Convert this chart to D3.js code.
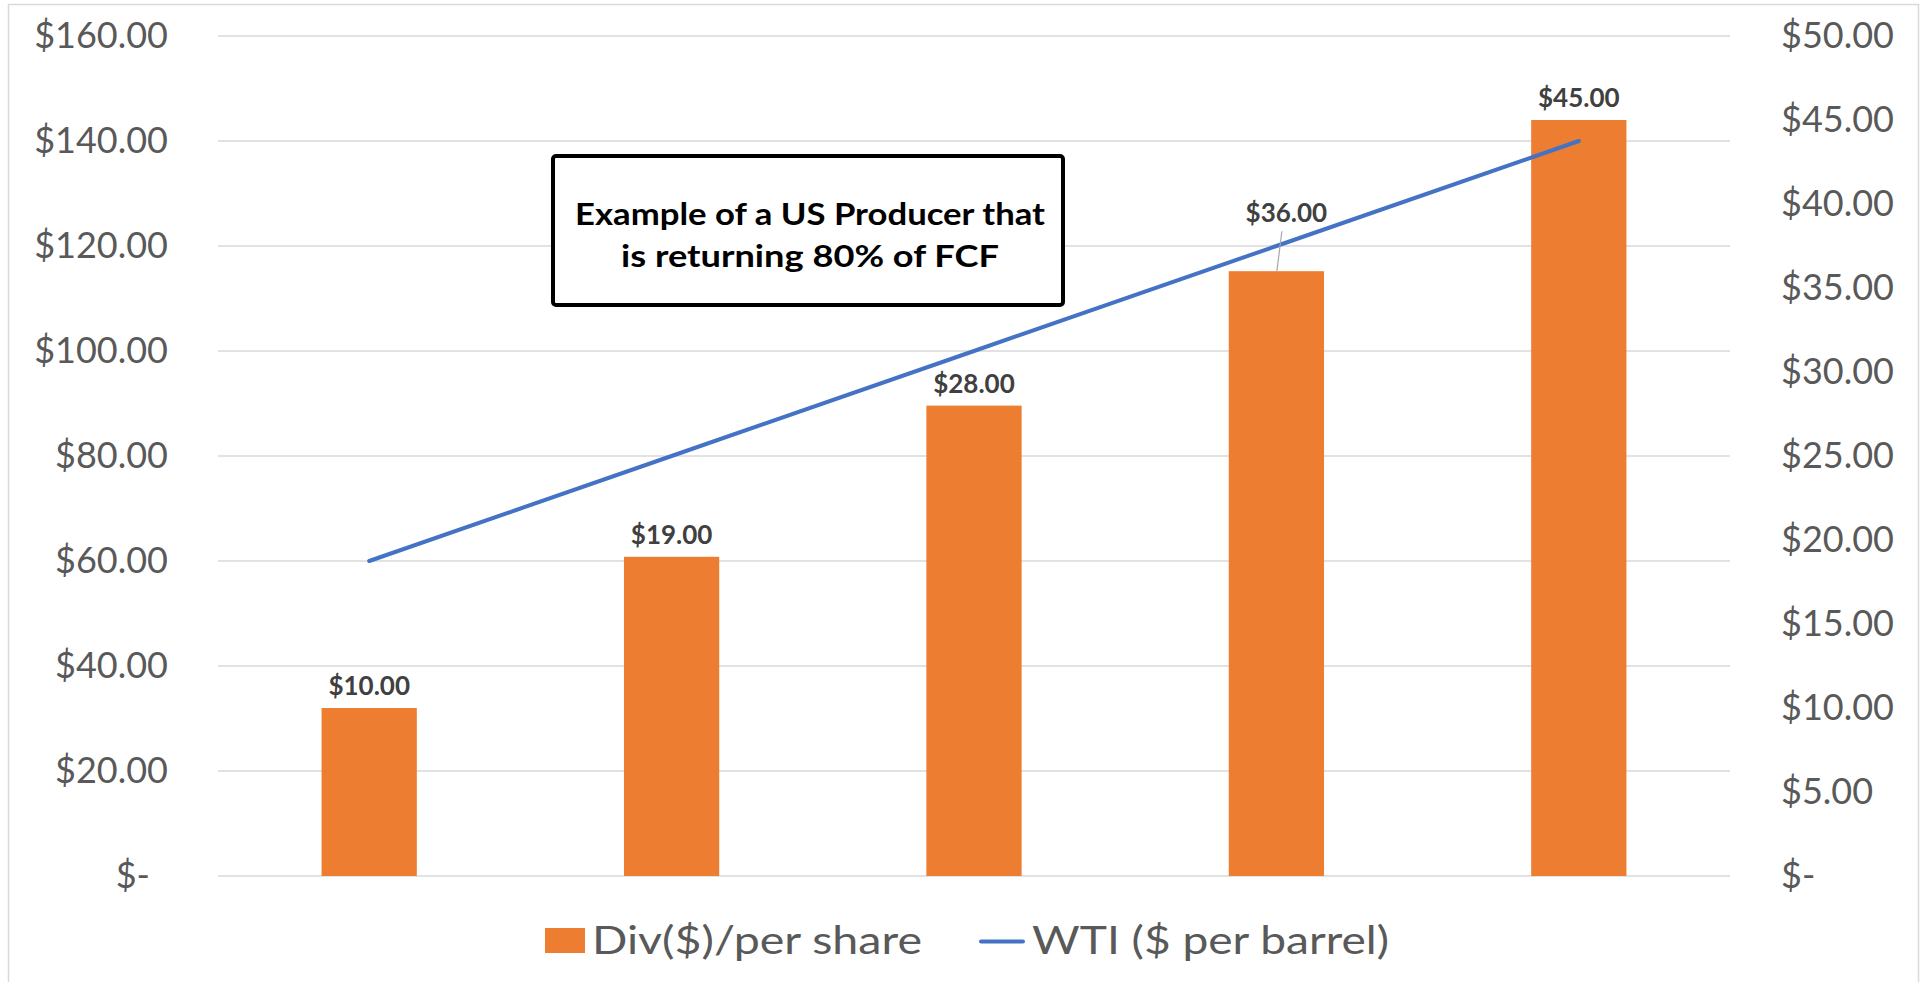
<!DOCTYPE html>
<html>
<head>
<meta charset="utf-8">
<script src="https://cdn.jsdelivr.net/npm/d3@7/dist/d3.min.js"></script>
<style>
  body { margin: 0; background: #fff; }
  svg { display: block; font-family: Lato, "Open Sans", sans-serif; }
</style>
</head>
<body>
<svg></svg>
<script>
var periods = ["Y1", "Y2", "Y3", "Y4", "Y5"];
var divPerShare = [10, 19, 28, 36, 45];      // bars, right axis
var wtiPrice = [60, 80, 100, 120, 140];      // line, left axis
var leftTicks = [0, 20, 40, 60, 80, 100, 120, 140, 160];
var rightTicks = [0, 5, 10, 15, 20, 25, 30, 35, 40, 45, 50];
var seriesNames = ["Div($)/per share", "WTI ($ per barrel)"];
var noteLines = ["Example of a US Producer that", "is returning 80% of FCF"];

var width = 1925, height = 982;
var plot = { left: 218, right: 1730, top: 36, bottom: 876 };

var svg = d3.select("svg")
    .attr("width", width)
    .attr("height", height);

// chart frame
svg.append("rect")
    .attr("x", 8.5).attr("y", 4.5)
    .attr("width", 1910).attr("height", 1000)
    .style("fill", "none")
    .style("stroke", "#d9d9d9")
    .style("stroke-width", 1.5);

var x = d3.scaleBand()
    .domain(periods)
    .range([plot.left, plot.right]);

var yLeft = d3.scaleLinear().domain([0, 160]).range([plot.bottom, plot.top]);
var yRight = d3.scaleLinear().domain([0, 50]).range([plot.bottom, plot.top]);

var fmt = function(d) {
    return d === 0 ? "$-" : "$" + d3.format(".2f")(d);
};

// gridlines
svg.append("g")
    .selectAll("line")
    .data(leftTicks)
    .enter().append("line")
    .attr("x1", plot.left).attr("x2", plot.right)
    .attr("y1", function(d) { return yLeft(d); })
    .attr("y2", function(d) { return yLeft(d); })
    .style("stroke", "#d9d9d9")
    .style("stroke-width", 1.5);

// left axis labels
var leftAxis = svg.append("g")
    .attr("transform", "translate(168,0)")
    .call(d3.axisLeft(yLeft).tickValues(leftTicks).tickFormat(fmt).tickSize(0).tickPadding(0));
leftAxis.select(".domain").remove();
leftAxis.selectAll("text")
    .style("font-family", "Lato, sans-serif")
    .style("font-size", "36px")
    .style("fill", "#595959")
    .attr("dx", function(d) { return d === 0 ? -18 : 0; });

// right axis labels
var rightAxis = svg.append("g")
    .attr("transform", "translate(1781,0)")
    .call(d3.axisRight(yRight).tickValues(rightTicks).tickFormat(fmt).tickSize(0).tickPadding(0));
rightAxis.select(".domain").remove();
rightAxis.selectAll("text")
    .style("font-family", "Lato, sans-serif")
    .style("font-size", "36px")
    .style("fill", "#595959");

// bars
var barW = x.bandwidth() * 0.315;
svg.append("g")
    .selectAll("rect")
    .data(divPerShare)
    .enter().append("rect")
    .attr("x", function(d, i) { return x(periods[i]) + x.bandwidth() / 2 - barW / 2; })
    .attr("y", function(d) { return yRight(d); })
    .attr("width", barW)
    .attr("height", function(d) { return plot.bottom - yRight(d); })
    .style("fill", "#ed7d31");

// WTI line
var line = d3.line()
    .x(function(d, i) { return x(periods[i]) + x.bandwidth() / 2; })
    .y(function(d) { return yLeft(d); });

svg.append("path")
    .datum(wtiPrice)
    .attr("d", line)
    .style("fill", "none")
    .style("stroke", "#4472c4")
    .style("stroke-width", 4)
    .style("stroke-linecap", "round");

// data labels (the 4th one is pushed up with a leader line, as in Excel)
divPerShare.forEach(function(d, i) {
    var cx = x(periods[i]) + x.bandwidth() / 2;
    var lx = cx, ly = yRight(d) - 13;
    if (i === 3) {
        lx = cx + 10;
        ly = yRight(d) - 49;
        svg.append("line")
            .attr("x1", cx + 0.5).attr("y1", yRight(d))
            .attr("x2", cx + 5.5).attr("y2", ly + 9)
            .style("stroke", "#a6a6a6")
            .style("stroke-width", 1.2);
    }
    svg.append("text")
        .attr("x", lx)
        .attr("y", ly)
        .style("text-anchor", "middle")
        .style("font-size", "26px")
        .style("font-weight", "bold")
        .style("fill", "#404040")
        .text(fmt(d));
});

// annotation box
svg.append("rect")
    .attr("x", 553).attr("y", 156)
    .attr("width", 510).attr("height", 149)
    .attr("rx", 3)
    .style("fill", "#fff")
    .style("stroke", "#000")
    .style("stroke-width", 4);

var noteWidths = [470, 378];
noteLines.forEach(function(t, i) {
    svg.append("text")
        .attr("x", 810)
        .attr("y", 225 + i * 42)
        .attr("textLength", noteWidths[i])
        .attr("lengthAdjust", "spacingAndGlyphs")
        .style("text-anchor", "middle")
        .style("font-size", "30px")
        .style("font-weight", "bold")
        .style("fill", "#000")
        .text(t);
});

// legend
var legend = svg.append("g");
legend.append("rect")
    .attr("x", 545).attr("y", 928)
    .attr("width", 40).attr("height", 25)
    .style("fill", "#ed7d31");
legend.append("text")
    .attr("x", 592).attr("y", 954)
    .attr("textLength", 330)
    .attr("lengthAdjust", "spacingAndGlyphs")
    .style("font-size", "38px")
    .style("fill", "#595959")
    .text(seriesNames[0]);
legend.append("line")
    .attr("x1", 981).attr("x2", 1023)
    .attr("y1", 941.5).attr("y2", 941.5)
    .style("stroke", "#4472c4")
    .style("stroke-width", 4)
    .style("stroke-linecap", "round");
legend.append("text")
    .attr("x", 1032).attr("y", 954)
    .attr("textLength", 357)
    .attr("lengthAdjust", "spacingAndGlyphs")
    .style("font-size", "38px")
    .style("fill", "#595959")
    .text(seriesNames[1]);
</script>
</body>
</html>
